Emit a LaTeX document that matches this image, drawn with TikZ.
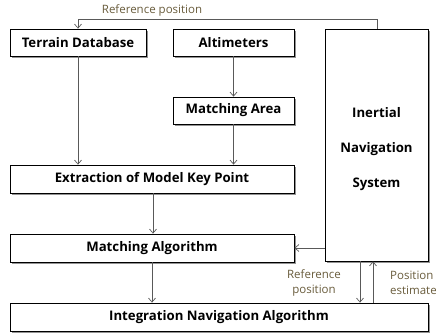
\documentclass[tikz,border=0pt]{standalone}
\usepackage{fontspec}
\setmainfont{Open Sans}
\usetikzlibrary{arrows.meta,shadows}
\definecolor{lbl}{RGB}{105,92,60}
\begin{document}
\begin{tikzpicture}[x=1pt,y=-1pt,
  box/.style={draw=black,line width=0.8pt,fill=white,font=\bfseries\fontsize{13.2}{14}\selectfont,
    drop shadow={shadow xshift=1.8pt,shadow yshift=-1.8pt,fill=black!60,opacity=0.7},inner sep=0pt},
  conn/.style={draw=black!65,line width=0.7pt,-{Straight Barb[length=4pt,width=7pt]}},
  plain/.style={draw=black!65,line width=0.7pt},
  lab/.style={text=lbl,font=\fontsize{11.5}{15}\selectfont,align=center,inner sep=0pt}]
\useasboundingbox[fill=white] (0,0) rectangle (436,333);
\node[box,minimum width=136pt,minimum height=27pt] (tdb) at (78,42.5) {Terrain Database};
\node[box,minimum width=121pt,minimum height=27pt] (alt) at (233.5,42.5) {Altimeters};
\node[box,minimum width=103pt,minimum height=232pt] (ins) at (376.5,145) {};
\node[align=center,inner sep=0pt,font=\bfseries\fontsize{13.2}{35}\selectfont] (inst) at (376.5,149) {Inertial\\Navigation\\System};
\node[box,minimum width=121pt,minimum height=27pt] (ma) at (233.5,110.5) {Matching Area};
\node[box,minimum width=284pt,minimum height=28pt] (ext) at (152,179) {Extraction of Model Key Point};
\node[box,minimum width=284pt,minimum height=28pt] (malg) at (152,248) {Matching Algorithm};
\node[box,minimum width=418pt,minimum height=28pt] (ina) at (219,317) {Integration Navigation Algorithm};
\coordinate (c1) at (377,19);
\coordinate (c2) at (78,19);
\draw[plain] (ins.north -| c1) -- (c1) -- (c2);
\draw[conn] (c2) -- (tdb.north);
\draw[conn] (tdb.south) -- (tdb.south |- ext.north);
\draw[conn] (alt.south) -- (ma.north);
\draw[conn] (ma.south) -- (ext.north -| ma.south);
\draw[conn] (ext.south -| 153,0) -- (malg.north -| 153,0);
\draw[conn] (malg.south) -- (ina.north -| malg.south);
\draw[conn] (ins.west |- malg.east) -- (malg.east);
\draw[conn] (ins.south -| 360,0) -- (ina.north -| 360,0);
\draw[conn] (ina.north -| 373,0) -- (ins.south -| 373,0);
\node[lab] (l1) at (152,10) {Reference position};
\node[lab] (l2) at (314,283) {Reference\\position};
\node[lab,anchor=west,align=left] (l3) at (390,283) {Position\\estimate};
\end{tikzpicture}
\end{document}
